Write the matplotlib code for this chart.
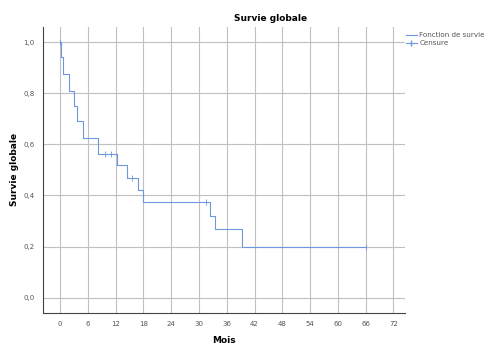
import numpy as np
import matplotlib
matplotlib.use("Agg")
import matplotlib.pyplot as plt

# courbe de Kaplan-Meier
event_times = [0.0, 0.3, 0.7, 1.9, 2.9, 3.6, 5.0, 8.2, 12.3, 14.5, 16.8, 18.0, 32.4, 33.5, 39.3, 66.0]
survival = [1.0, 0.94, 0.875, 0.81, 0.75, 0.69, 0.625, 0.5625, 0.52, 0.47, 0.42, 0.375, 0.32, 0.27, 0.2, 0.2]
censor_times = [0.0, 9.6, 11.0, 15.5, 31.5, 66.0]

x_ticks = list(range(0, 73, 6))
y_ticks = [0.0, 0.2, 0.4, 0.6, 0.8, 1.0]
y_labels = ["0,0", "0,2", "0,4", "0,6", "0,8", "1,0"]

line_col = "#6d98e0"
grid_col = "#c0c0c0"

fig = plt.figure(figsize=(4.88, 3.45), dpi=100)
ax = fig.add_axes([0.088, 0.093, 0.742, 0.829])

ax.step(event_times, survival, where="post", color=line_col, lw=0.8, zorder=3)

def surv_at(t):
    s = survival[0]
    for et, sv in zip(event_times, survival):
        if et <= t:
            s = sv
    return s

cy = [surv_at(t) for t in censor_times]
ax.plot(censor_times, cy, ls="none", marker="|", ms=4, mew=0.6, color=line_col, zorder=4)

ax.set_xlim(-3.7, 74.5)
ax.set_ylim(-0.059, 1.059)
ax.set_xticks(x_ticks)
ax.set_yticks(y_ticks)
ax.set_yticklabels(y_labels)
ax.tick_params(labelsize=5, colors="#555555", length=0, pad=6)
ax.grid(True, color=grid_col, lw=0.8)
ax.set_axisbelow(True)
for s in ["top", "right"]:
    ax.spines[s].set_visible(False)
for s in ["left", "bottom"]:
    ax.spines[s].set_color("#444444")
    ax.spines[s].set_linewidth(0.8)

ax.set_xlabel("Mois", fontsize=6.5, fontweight="bold", labelpad=6)
ax.set_ylabel("Survie globale", fontsize=6.5, fontweight="bold", labelpad=3)
fig.text(0.555, 0.94, "Survie globale", ha="center", fontsize=6.5, fontweight="bold")

h1, = ax.plot([], [], color=line_col, lw=0.8)
h2, = ax.plot([], [], ls="-", marker="|", color=line_col, lw=0.8, ms=4)
leg = fig.legend([h1, h2], ["Fonction de survie", "Censure"], loc="upper left",
                 bbox_to_anchor=(0.826, 0.915), frameon=False, fontsize=5.1,
                 handlelength=1.5, handletextpad=0.4, labelspacing=0.3, borderaxespad=0)
for t in leg.get_texts():
    t.set_color("#555555")

fig.savefig("out.png", dpi=100)
